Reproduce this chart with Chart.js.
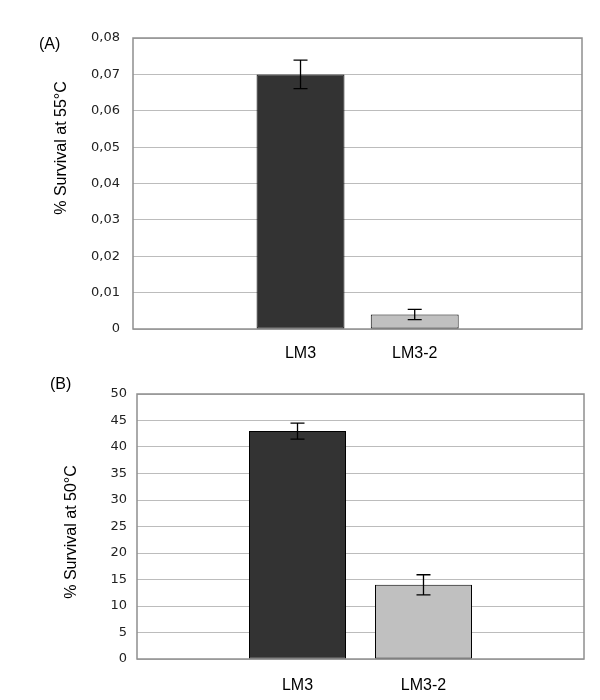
<!DOCTYPE html>
<html>
<head>
<meta charset="utf-8">
<script src="https://cdn.jsdelivr.net/npm/chart.js@4/dist/chart.umd.min.js"></script>
<style>
    body { margin: 0; background: #fff; width: 600px; height: 700px; position: relative; overflow: hidden; font-family: "Liberation Sans", Arial, sans-serif; }
    .panel { position: absolute; left: 0; width: 600px; }
    #wrapA { top: 0; height: 365px; }
    #wrapB { top: 365px; height: 335px; }
    .tag { position: absolute; font-size: 16px; line-height: 1; color: #000; }
</style>
</head>
<body>
<div class="panel" id="wrapA"><canvas id="chartA"></canvas></div>
<div class="panel" id="wrapB"><canvas id="chartB"></canvas></div>
<div class="tag" style="left:39px; top:36px;">(A)</div>
<div class="tag" style="left:50px; top:376px;">(B)</div>
<script>
// survival charts, panel A (55 C) and panel B (50 C)

const strains = ["LM3", "LM3-2"];
const barColors = ["#333333", "#c0c0c0"];

const survival55 = [0.07, 0.004];
const error55 = [0.0039, 0.0014];

const survival50 = [43, 14];
const error50 = [1.5, 1.9];

// --------------------
// plugins
// --------------------
const errorBars = {
    id: "errorBars",
    afterDatasetsDraw(chart, args, opts) {
        const ctx = chart.ctx;
        const y = chart.scales.y;
        const ds = chart.data.datasets[0];
        ctx.save();
        ctx.strokeStyle = "#000";
        ctx.lineWidth = 1.3;
        chart.getDatasetMeta(0).data.forEach((bar, i) => {
            const v = ds.data[i].y;
            const e = opts.errors[i];
            const top = y.getPixelForValue(v + e);
            const bot = y.getPixelForValue(v - e);
            ctx.beginPath();
            ctx.moveTo(bar.x, top); ctx.lineTo(bar.x, bot);
            ctx.moveTo(bar.x - 7, top); ctx.lineTo(bar.x + 7, top);
            ctx.moveTo(bar.x - 7, bot); ctx.lineTo(bar.x + 7, bot);
            ctx.stroke();
        });
        ctx.restore();
    }
};

const frame = {
    id: "frame",
    beforeDatasetsDraw(chart) {
        const a = chart.chartArea;
        const ctx = chart.ctx;
        ctx.save();
        ctx.strokeStyle = "#8f8f8f";
        ctx.lineWidth = 1.5;
        ctx.strokeRect(a.left, a.top, a.right - a.left, a.bottom - a.top);
        ctx.restore();
    }
};

const yLabel = {
    id: "yLabel",
    afterDraw(chart, args, opts) {
        const ctx = chart.ctx;
        ctx.save();
        ctx.translate(opts.x, opts.y);
        ctx.rotate(-Math.PI / 2);
        ctx.font = "16px 'Liberation Sans', Arial, sans-serif";
        ctx.fillStyle = "#000";
        ctx.textAlign = "center";
        ctx.textBaseline = "middle";
        ctx.fillText(opts.text, 0, 0);
        ctx.restore();
    }
};

function makeChart(id, values, errors, cfg) {
    return new Chart(document.getElementById(id), {
        type: "bar",
        data: {
            datasets: [{
                data: values.map((v, i) => ({ x: i + 1, y: v })),
                backgroundColor: barColors,
                borderColor: "#000",
                borderWidth: 1,
                borderSkipped: false,
                categoryPercentage: 1,
                barPercentage: 0.77
            }]
        },
        options: {
            responsive: true,
            maintainAspectRatio: false,
            animation: false,
            layout: { padding: cfg.padding },
            plugins: {
                legend: { display: false },
                tooltip: { enabled: false },
                errorBars: { errors: errors },
                yLabel: cfg.yLabel
            },
            scales: {
                x: {
                    type: "linear",
                    offset: false,
                    min: cfg.xMin,
                    max: cfg.xMax,
                    grid: { display: false, drawTicks: false, offset: false },
                    border: { display: false },
                    afterBuildTicks: (axis) => { axis.ticks = strains.map((s, i) => ({ value: i + 1 })); },
                    afterFit: (axis) => { axis.height = cfg.xHeight; },
                    ticks: {
                        autoSkip: false,
                        maxRotation: 0,
                        padding: cfg.xPad,
                        color: "#000",
                        font: { family: "'Liberation Sans', Arial, sans-serif", size: 16 },
                        callback: (v) => strains[v - 1]
                    }
                },
                y: {
                    min: 0,
                    max: cfg.yMax,
                    grid: { color: "#bcbcbc", drawTicks: false },
                    border: { display: false },
                    afterFit: (axis) => { axis.width = cfg.yWidth; },
                    ticks: {
                        stepSize: cfg.step,
                        padding: cfg.yPad,
                        color: "#222",
                        font: { family: "'DejaVu Sans', Verdana, sans-serif", size: 13 },
                        callback: cfg.fmt
                    }
                }
            }
        },
        plugins: [frame, errorBars, yLabel]
    });
}

// --------------------
// (A) 55 C
// --------------------
makeChart("chartA", survival55, error55, {
    padding: { top: 38, right: 18, left: 0, bottom: 0 },
    xMin: -0.467, xMax: 3.465,
    xHeight: 36, xPad: 15,
    yMax: 0.08, step: 0.01, yWidth: 133, yPad: 13,
    fmt: (v) => v === 0 ? "0" : Number(v).toFixed(2).replace(".", ","),
    yLabel: { text: "% Survival at 55°C", x: 62, y: 148 }
});

// --------------------
// (B) 50 C
// --------------------
makeChart("chartB", survival50, error50, {
    padding: { top: 29, right: 16, left: 0, bottom: 0 },
    xMin: -0.274, xMax: 3.274,
    xHeight: 41, xPad: 17,
    yMax: 50, step: 5, yWidth: 137, yPad: 10,
    fmt: (v) => String(v),
    yLabel: { text: "% Survival at 50°C", x: 72, y: 167 }
});
// end
</script>
</body>
</html>
